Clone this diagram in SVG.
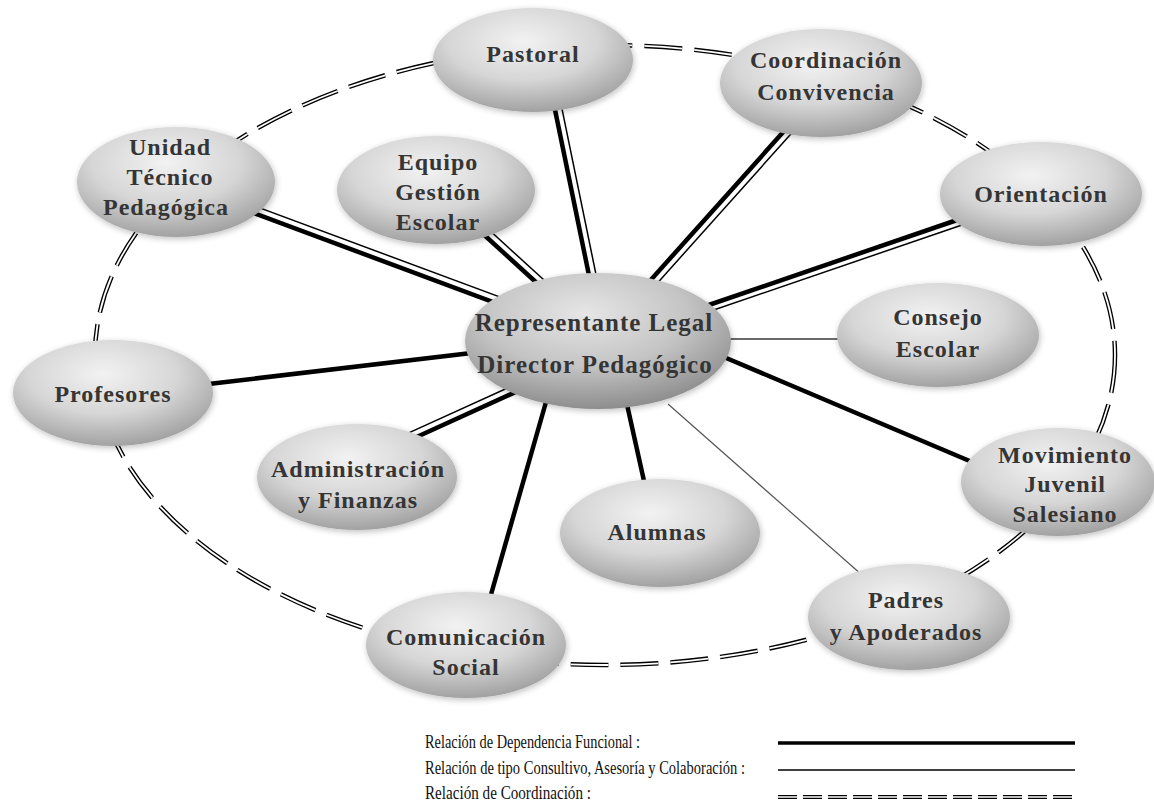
<svg xmlns="http://www.w3.org/2000/svg" width="1154" height="812" viewBox="0 0 1154 812">
<defs>
<radialGradient id="g" cx="45%" cy="32%" r="68%">
<stop offset="0" stop-color="#f2f2f2"/>
<stop offset="0.55" stop-color="#d6d6d6"/>
<stop offset="1" stop-color="#a2a2a2"/>
</radialGradient>
<radialGradient id="gc" cx="45%" cy="30%" r="70%">
<stop offset="0" stop-color="#e6e6e6"/>
<stop offset="0.55" stop-color="#c4c4c4"/>
<stop offset="1" stop-color="#8e8e8e"/>
</radialGradient>
<filter id="sh" x="-20%" y="-20%" width="140%" height="140%">
<feGaussianBlur in="SourceAlpha" stdDeviation="3"/>
<feOffset dx="1" dy="2" result="b"/>
<feComponentTransfer><feFuncA type="linear" slope="0.25"/></feComponentTransfer>
<feMerge><feMergeNode/><feMergeNode in="SourceGraphic"/></feMerge>
</filter>
</defs>
<style>
.node ellipse{fill:url(#g);filter:url(#sh)}
.center ellipse{fill:url(#gc)}
.lbl{font-family:"Liberation Serif","Times New Roman",serif;font-weight:bold;font-size:24px;letter-spacing:1px;fill:#353535;text-anchor:middle}
.big{font-size:25px}
.thick{stroke:#000;stroke-width:4.5;fill:none}
.thin{stroke:#000;stroke-width:1.5;fill:none}
.dashO{fill:none;stroke:#000;stroke-width:4.5;stroke-dasharray:38 12}
.dashI{fill:none;stroke:#fff;stroke-width:1.8;stroke-dasharray:38 12}
.leg{font-family:"Liberation Serif","Times New Roman",serif;font-size:18px;fill:#111}
</style>
<rect width="1154" height="812" fill="#fff"/>
<g id="connectors">
<ellipse class="dashO" cx="605" cy="355" rx="510" ry="310"/>
<ellipse class="dashI" cx="605" cy="355" rx="510" ry="310"/>
<line class="thick" x1="240" y1="208" x2="520" y2="312"/>
<line class="thin" x1="242.4" y1="201.4" x2="522.4" y2="305.4"/>
<line class="thick" x1="470" y1="222" x2="550" y2="295"/>
<line class="thin" x1="474.7" y1="216.8" x2="554.7" y2="289.8"/>
<line class="thick" x1="553" y1="100" x2="592" y2="290"/>
<line class="thin" x1="559.9" y1="98.6" x2="598.9" y2="288.6"/>
<line class="thick" x1="794" y1="120" x2="640" y2="292"/>
<line class="thin" x1="799.2" y1="124.7" x2="645.2" y2="296.7"/>
<line class="thick" x1="960" y1="219" x2="700" y2="308"/>
<line class="thin" x1="962" y1="225" x2="702" y2="314"/>
<line class="thick" x1="410" y1="440" x2="520" y2="390"/>
<line class="thin" x1="407.1" y1="433.6" x2="517.1" y2="383.6"/>
<line class="thick" x1="712" y1="352" x2="972" y2="462"/>
<line class="thick" x1="626" y1="400" x2="646" y2="490"/>
<line class="thick" x1="548" y1="395" x2="488" y2="605"/>
<line class="thick" x1="200" y1="385" x2="480" y2="352"/>
<line x1="720" y1="339" x2="850" y2="339" stroke="#6a6a6a" stroke-width="2"/>
<line x1="668" y1="404" x2="862" y2="575" stroke="#555" stroke-width="1.2"/>
</g>
<g id="pastoral" class="node"><ellipse cx="533" cy="60" rx="100" ry="52"/><text class="lbl" x="533" y="62">Pastoral</text></g>
<g id="coordinacion" class="node"><ellipse cx="821" cy="83" rx="101" ry="54"/><text class="lbl" x="826" y="68">Coordinación</text><text class="lbl" x="826" y="100">Convivencia</text></g>
<g id="orientacion" class="node"><ellipse cx="1041" cy="194" rx="101" ry="52"/><text class="lbl" x="1041" y="202">Orientación</text></g>
<g id="consejo" class="node"><ellipse cx="938" cy="335" rx="101" ry="52"/><text class="lbl" x="938" y="325">Consejo</text><text class="lbl" x="938" y="357">Escolar</text></g>
<g id="movimiento" class="node"><ellipse cx="1058" cy="482" rx="97" ry="54"/><text class="lbl" x="1065" y="463">Movimiento</text><text class="lbl" x="1065" y="492">Juvenil</text><text class="lbl" x="1065" y="522">Salesiano</text></g>
<g id="padres" class="node"><ellipse cx="909" cy="617" rx="101" ry="53"/><text class="lbl" x="906" y="608">Padres</text><text class="lbl" x="906" y="640">y Apoderados</text></g>
<g id="alumnas" class="node"><ellipse cx="660" cy="533" rx="100" ry="54"/><text class="lbl" x="657" y="540">Alumnas</text></g>
<g id="comunicacion" class="node"><ellipse cx="466" cy="645" rx="100" ry="53"/><text class="lbl" x="466" y="645">Comunicación</text><text class="lbl" x="466" y="675">Social</text></g>
<g id="administracion" class="node"><ellipse cx="357" cy="477" rx="100" ry="53"/><text class="lbl" x="358" y="477">Administración</text><text class="lbl" x="358" y="508">y Finanzas</text></g>
<g id="profesores" class="node"><ellipse cx="113" cy="393" rx="100" ry="53"/><text class="lbl" x="113" y="402">Profesores</text></g>
<g id="unidad" class="node"><ellipse cx="176" cy="182" rx="99" ry="55"/><text class="lbl" x="170" y="155">Unidad</text><text class="lbl" x="170" y="185">Técnico</text><text class="lbl" x="166" y="215">Pedagógica</text></g>
<g id="equipo" class="node"><ellipse cx="436" cy="190" rx="99" ry="54"/><text class="lbl" x="438" y="170">Equipo</text><text class="lbl" x="438" y="200">Gestión</text><text class="lbl" x="438" y="230">Escolar</text></g>
<g id="representante" class="node center"><ellipse cx="598" cy="341" rx="133" ry="68"/><text class="lbl big" x="594" y="331">Representante Legal</text><text class="lbl big" x="595" y="373">Director Pedagógico</text></g>
<g id="legend">
<text class="leg" x="425" y="748" textLength="215" lengthAdjust="spacingAndGlyphs">Relación de Dependencia Funcional :</text>
<text class="leg" x="425" y="774" textLength="320" lengthAdjust="spacingAndGlyphs">Relación de tipo Consultivo, Asesoría y Colaboración :</text>
<text class="leg" x="425" y="799" textLength="166" lengthAdjust="spacingAndGlyphs">Relación de Coordinación :</text>
<line x1="778" y1="743" x2="1075" y2="743" stroke="#000" stroke-width="3.5"/>
<line x1="778" y1="770" x2="1075" y2="770" stroke="#000" stroke-width="1.5"/>
<line x1="778" y1="797" x2="1075" y2="797" stroke="#000" stroke-width="4" stroke-dasharray="19 6"/>
<line x1="778" y1="797" x2="1075" y2="797" stroke="#fff" stroke-width="1.5" stroke-dasharray="19 6"/>
</g>
</svg>
